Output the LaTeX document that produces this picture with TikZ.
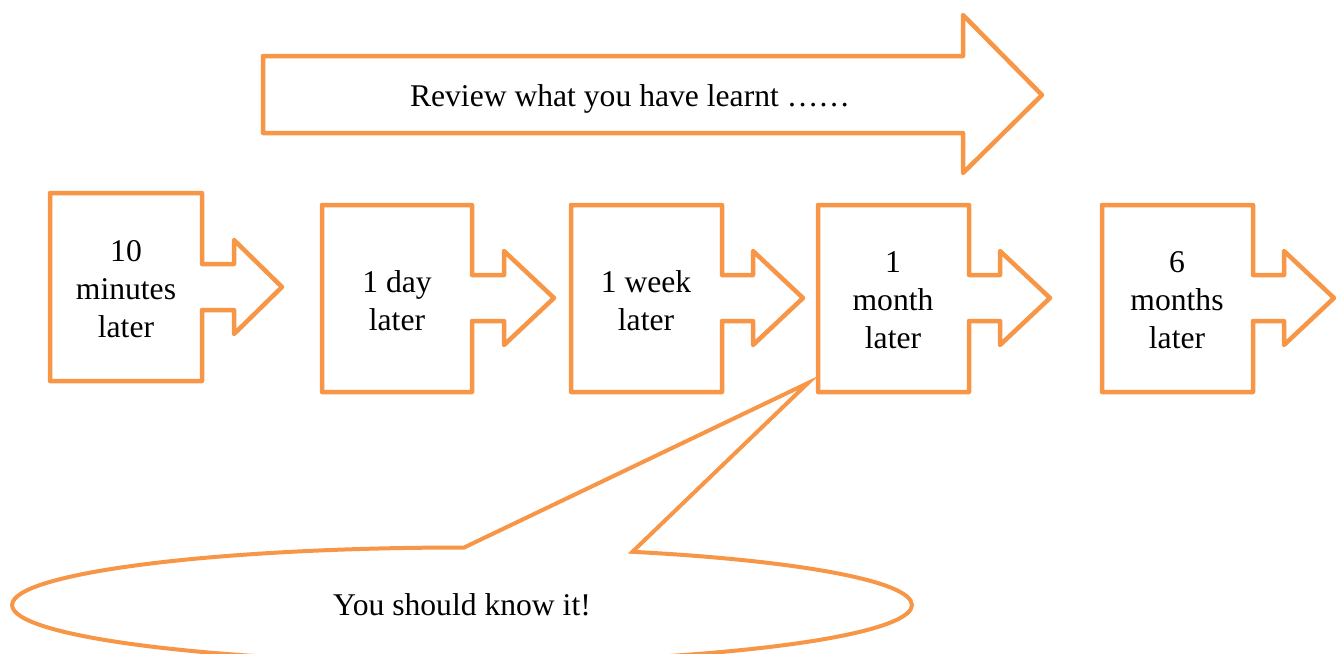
\documentclass[tikz,border=0pt]{standalone}
\usepackage{fontspec}
\setmainfont{Liberation Serif}
\usetikzlibrary{shapes, positioning}
\definecolor{reviewOrange}{HTML}{F79646}
\tikzset{
	outline/.style={draw=reviewOrange,
		line width=0.09cm,
		line join=round,
		fill=white,
		},
	label/.style={align=center,
		inner sep=0pt,
		font=\fontsize{18}{21.5}\selectfont,
		},
	bubble/.style={ellipse callout,
		draw=reviewOrange,
		line width=0.08cm,
		fill=white,
		minimum width=18cm,
		minimum height=2.3cm,
		callout pointer arc=22,
		font=\fontsize{18}{21.5}\selectfont,
		},
}
\begin{document}
\begin{tikzpicture}[x=0.02cm, y=-0.02cm]
   \useasboundingbox (0,0) rectangle (1339,653);
   \clip (0,0) rectangle (1339,653);

   % big arrow on top
   \draw[outline] (263,56) -- (963,56) -- (963,15) -- (1042,95) -- (963,173)
   	-- (963,133) -- (263,133) -- cycle;
   \node[label] (review) at (630,99) {Review what you have learnt ……};

   % the five boxes with arrows
   \draw[outline] (50,193) -- (202,193) -- (202,264) -- (234,264) -- (234,240)
   	-- (282,287) -- (234,334) -- (234,310) -- (202,310) -- (202,381) -- (50,381) -- cycle;
   \draw[outline] (322,205) -- (472,205) -- (472,275) -- (504,275) -- (504,251)
   	-- (554,298) -- (504,345) -- (504,321) -- (472,321) -- (472,392) -- (322,392) -- cycle;
   \draw[outline] (571,205) -- (722,205) -- (722,275) -- (753,275) -- (753,251)
   	-- (803,298) -- (753,345) -- (753,321) -- (722,321) -- (722,392) -- (571,392) -- cycle;
   \draw[outline] (818,205) -- (969,205) -- (969,275) -- (1000,275) -- (1000,251)
   	-- (1050,298) -- (1000,345) -- (1000,321) -- (969,321) -- (969,392) -- (818,392) -- cycle;
   \draw[outline] (1102,205) -- (1253,205) -- (1253,275) -- (1284,275) -- (1284,251)
   	-- (1334,298) -- (1284,345) -- (1284,321) -- (1253,321) -- (1253,392) -- (1102,392) -- cycle;

   \node[label] (minutes10) at (126,289) {10\\minutes\\later};
   \node[label] (day1) at (397,301) {1 day\\later};
   \node[label] (week1) at (646,301) {1 week\\later};
   \node[label] (month1) at (893,300) {1\\month\\later};
   \node[label] (months6) at (1177,300) {6\\months\\later};

   % speech bubble
   \coordinate (tip) at (808,383);
   \node[bubble, callout absolute pointer={(tip)}] (know) at (462,605) {You should know it!};
\end{tikzpicture}
\end{document}
